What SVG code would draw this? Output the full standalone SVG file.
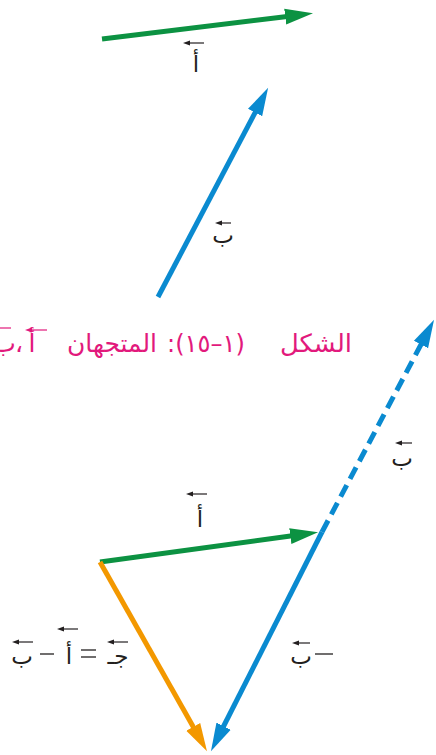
<svg xmlns="http://www.w3.org/2000/svg" width="436" height="755" viewBox="0 0 436 755">
<style>
.vec{stroke-width:5;fill:none;stroke-linecap:butt}
.g{stroke:#0C9242}.b{stroke:#0A8AD0}.o{stroke:#F39800}
.lbl{font-family:"DejaVu Sans",sans-serif;font-size:23px;fill:#231F20;text-anchor:middle}
.cap{font-family:"DejaVu Sans",sans-serif;font-size:25px;fill:#E2197C;text-anchor:middle}
.ov{stroke:#231F20;stroke-width:1.2;fill:none}
.ovp{stroke:#E2197C;stroke-width:1.2;fill:none}
</style>
<defs>
<marker id="hg" markerUnits="userSpaceOnUse" markerWidth="30" markerHeight="20" viewBox="0 -10 30 20" refX="2" refY="0" orient="auto"><path d="M0,-8 L28,0 L0,8 z" fill="#0C9242"/></marker>
<marker id="hb" markerUnits="userSpaceOnUse" markerWidth="30" markerHeight="20" viewBox="0 -10 30 20" refX="2" refY="0" orient="auto"><path d="M0,-8 L28,0 L0,8 z" fill="#0A8AD0"/></marker>
<marker id="ho" markerUnits="userSpaceOnUse" markerWidth="30" markerHeight="20" viewBox="0 -10 30 20" refX="2" refY="0" orient="auto"><path d="M0,-8 L28,0 L0,8 z" fill="#F39800"/></marker>
<marker id="sa" markerUnits="userSpaceOnUse" markerWidth="8" markerHeight="6" viewBox="0 -3 8 6" refX="0" refY="0" orient="auto"><path d="M0,-2.5 L7,0 L0,2.5 z" fill="#231F20"/></marker>
<marker id="sp" markerUnits="userSpaceOnUse" markerWidth="8" markerHeight="6" viewBox="0 -3 8 6" refX="0" refY="0" orient="auto"><path d="M0,-2.5 L7,0 L0,2.5 z" fill="#E2197C"/></marker>
</defs>
<g id="connectors">
<line class="vec g" x1="102" y1="39" x2="287.2" y2="16.4" marker-end="url(#hg)"/>
<line class="vec b" x1="158" y1="297" x2="256" y2="110.8" marker-end="url(#hb)"/>
<line class="vec g" x1="100" y1="562" x2="292.3" y2="535.8" marker-end="url(#hg)"/>
<line class="vec b" x1="322" y1="532" x2="421.9" y2="342.8" stroke-dasharray="13 7" marker-end="url(#hb)"/>
<line class="vec b" x1="322" y1="532" x2="222.7" y2="728" marker-end="url(#hb)"/>
<line class="vec o" x1="100" y1="562" x2="194.2" y2="728.6" marker-end="url(#ho)"/>
</g>
<g id="label-a-top">
<line class="ov" x1="204" y1="43" x2="190" y2="43" marker-end="url(#sa)"/>
<text class="lbl" x="196" y="72">أ</text>
</g>
<g id="label-b-top">
<line class="ov" x1="231" y1="223" x2="222" y2="223" marker-end="url(#sa)"/>
<text class="lbl" x="223" y="243">ب</text>
</g>
<g id="caption">
<text class="cap" x="316" y="352" direction="rtl" textLength="72" lengthAdjust="spacingAndGlyphs">الشكل</text>
<text class="cap" x="206" y="352" direction="rtl" textLength="78" lengthAdjust="spacingAndGlyphs">(١–١٥):</text>
<text class="cap" x="112" y="352" direction="rtl" textLength="90" lengthAdjust="spacingAndGlyphs">المتجهان</text>
<line class="ovp" x1="47" y1="330" x2="32" y2="330" marker-end="url(#sp)"/>
<text class="cap" x="32" y="352">أ</text>
<text class="cap" x="19" y="352">،</text>
<line class="ovp" x1="11" y1="328" x2="0" y2="328"/>
<text class="cap" x="4" y="352">ب</text>
</g>
<g id="label-a-bottom">
<line class="ov" x1="207" y1="494" x2="193" y2="494" marker-end="url(#sa)"/>
<text class="lbl" x="200" y="527">أ</text>
</g>
<g id="label-b-right">
<line class="ov" x1="412" y1="443" x2="402" y2="443" marker-end="url(#sa)"/>
<text class="lbl" x="402" y="466">ب</text>
</g>
<g id="label-neg-b">
<line class="ov" x1="310" y1="643" x2="299" y2="643" marker-end="url(#sa)"/>
<text class="lbl" x="301" y="664">ب</text>
<line x1="315" y1="654" x2="333" y2="654" stroke="#231F20" stroke-width="1.3"/>
</g>
<g id="label-c">
<line class="ov" x1="33" y1="642" x2="19" y2="642" marker-end="url(#sa)"/>
<text class="lbl" x="22" y="664">ب</text>
<line x1="40" y1="654" x2="54" y2="654" stroke="#231F20" stroke-width="1.3"/>
<line class="ov" x1="78" y1="629" x2="64" y2="629" marker-end="url(#sa)"/>
<text class="lbl" x="69" y="664">أ</text>
<line x1="81" y1="650" x2="96" y2="650" stroke="#231F20" stroke-width="1.3"/>
<line x1="81" y1="657" x2="96" y2="657" stroke="#231F20" stroke-width="1.3"/>
<line class="ov" x1="128" y1="642" x2="114" y2="642" marker-end="url(#sa)"/>
<text class="lbl" x="118" y="664">جـ</text>
</g>
</svg>
